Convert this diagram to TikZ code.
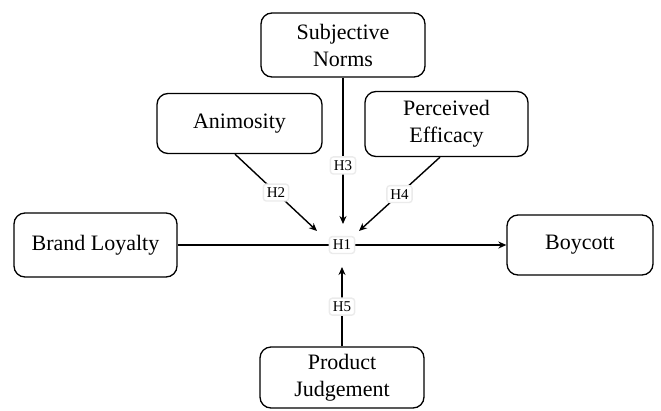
\documentclass[tikz,border=0pt]{standalone}
\usepackage{fontspec}
\setmainfont{Liberation Serif}
\usetikzlibrary{arrows.meta,positioning}

\begin{document}
\begin{tikzpicture}[
    x=1pt, y=-1pt,
    every node/.style={font=\fontsize{22}{27}\selectfont},
    bx/.style={rectangle, draw, line width=1.3pt, rounded corners=11pt,
               align=center, inner sep=2pt},
    e/.style={line width=1.4pt, -{Stealth[length=8pt, width=7pt]}},
    hl/.style={font=\fontsize{15}{17}\selectfont, fill=white, draw=black!8,
               rounded corners=3pt, inner sep=3.5pt},
  ]
  \useasboundingbox (0,0) rectangle (661,410);
  % constructs
  \node[bx, minimum width=164pt, minimum height=64pt] (sn) at (343,45) {Subjective\\Norms};
  \node[bx, minimum width=165pt, minimum height=60pt] (anim) at (239.5,123.5) {Animosity};
  \node[bx, minimum width=163pt, minimum height=65pt] (pe) at (446.5,124) {Perceived\\Efficacy};
  \node[bx, minimum width=163pt, minimum height=64pt] (bl) at (95.5,245) {Brand Loyalty};
  \node[bx, minimum width=146pt, minimum height=60pt] (boy) at (580,245) {Boycott};
  \node[bx, minimum width=164pt, minimum height=61pt] (pj) at (342,377.5) {Product\\Judgement};
  % arrow tips near H1
  \coordinate (t2) at (317,231);
  \coordinate (t3) at (343,224);
  \coordinate (t4) at (359,231);
  \coordinate (t5) at (342,267);
  % paths
  \draw[e] (bl) -- node[hl] (h1) {H1} (boy);
  \draw[e] ([xshift=-4.5pt]anim.south) -- node[hl] {H2} (t2);
  \draw[e] (sn) -- node[hl, pos=0.6] {H3} (t3);
  \draw[e] ([xshift=-6.5pt]pe.south) -- node[hl] {H4} (t4);
  \draw[e] (pj) -- node[hl] {H5} (t5);
\end{tikzpicture}
\end{document}
